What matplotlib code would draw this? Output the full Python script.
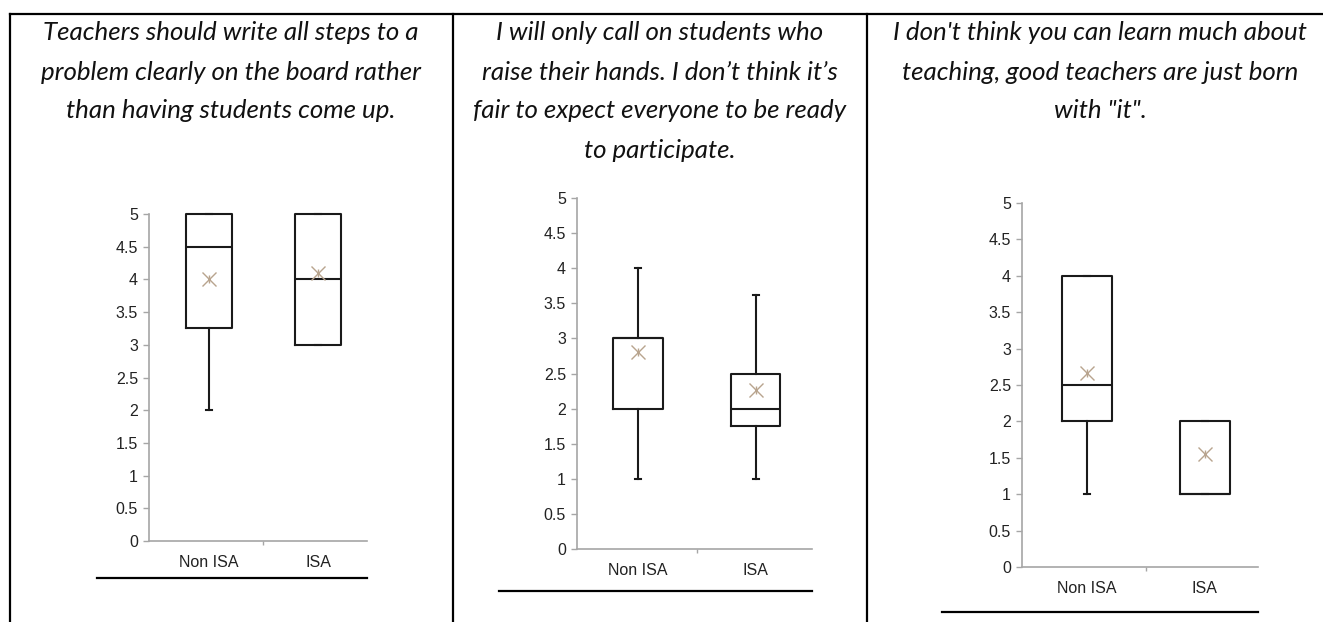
import matplotlib
matplotlib.use('Agg')
import matplotlib.pyplot as plt
from matplotlib.lines import Line2D

W, H = 1323, 622

# statements (one per table cell), one entry per printed line
titles = [
    ['Teachers should write all steps to a',
     'problem clearly on the board rather',
     'than having students come up.'],
    ['I will only call on students who',
     'raise their hands. I don\u2019t think it\u2019s',
     'fair to expect everyone to be ready',
     'to participate.'],
    ['I don\'t think you can learn much about',
     'teaching, good teachers are just born',
     'with "it".'],
]
groups = ['Non ISA', 'ISA']

# box stats per panel: [Non ISA, ISA]
mins = [[2, 3], [1, 1], [1, 1]]
q1s = [[3.25, 3], [2, 1.75], [2, 1]]
medians = [[4.5, 4], [3, 2], [2.5, 1]]
q3s = [[5, 5], [3, 2.5], [4, 2]]
maxs = [[5, 5], [4, 3.625], [4, 2]]
means = [[4.0, 4.1], [2.8, 2.27], [2.67, 1.55]]

yticks = [0, 0.5, 1, 1.5, 2, 2.5, 3, 3.5, 4, 4.5, 5]
ytick_labels = ['0', '0.5', '1', '1.5', '2', '2.5', '3', '3.5', '4', '4.5', '5']

# layout in pixels
ax_px = [(149, 367, 214, 541), (577, 812, 198, 549), (1022, 1258, 203, 567)]  # left, right, top(y=5), bottom(y=0)
x_lims = [(0.45, 2.45), (0.48, 2.48), (0.45, 2.45)]
underline_px = [(97, 367, 578), (499, 812, 591), (942, 1258, 612)]
title_x = [231, 660, 1100]
title_y = [32, 72, 111, 151]
cell_lines_x = [10, 453, 867]
top_y = 14

fig = plt.figure(figsize=(W / 100, H / 100), dpi=100)
fig.patch.set_facecolor('white')


def fx(x):
    return x / W


def fy(y):
    return 1 - y / H


# bordas da tabela
fig.add_artist(Line2D([fx(cell_lines_x[0]), 1], [fy(top_y), fy(top_y)], color='black', lw=1.6))
for x in cell_lines_x:
    fig.add_artist(Line2D([fx(x), fx(x)], [fy(top_y), 0], color='black', lw=1.6))

axis_grey = '#a6a6a6'
ink = '#1a1a1a'
tick_font = dict(family='Liberation Sans', size=11.5, color='#222222')

for i in range(3):
    l, r, t, b = ax_px[i]
    ax = fig.add_axes([fx(l), fy(b), (r - l) / W, (b - t) / H])

    stats = []
    for j in range(2):
        stats.append({'whislo': mins[i][j], 'q1': q1s[i][j], 'med': medians[i][j],
                      'q3': q3s[i][j], 'whishi': maxs[i][j], 'fliers': [],
                      'label': groups[j]})
    ax.bxp(stats, positions=[1, 2], widths=0.42, showfliers=False,
           capwidths=0.05, manage_ticks=False,
           boxprops=dict(color=ink, lw=1.5),
           medianprops=dict(color=ink, lw=1.5),
           whiskerprops=dict(color=ink, lw=1.5),
           capprops=dict(color=ink, lw=1.5))
    for art in ax.get_children():
        art.set_clip_on(False)

    # mean marker (Excel style asterisk)
    ax.plot([1, 2], means[i], linestyle='none', marker='x', markersize=10,
            markeredgecolor='#b8a48e', markeredgewidth=1.0, clip_on=False, zorder=5)
    ax.plot([1, 2], means[i], linestyle='none', marker='|', markersize=6,
            markeredgecolor='#b8a48e', markeredgewidth=1.0, clip_on=False, zorder=5)

    ax.set_xlim(*x_lims[i])
    ax.set_ylim(0, 5)
    ax.set_yticks(yticks)
    ax.set_yticklabels(ytick_labels, **tick_font)
    ax.set_xticks([1.5])
    ax.set_xticklabels([''])
    ax.set_xticks([1, 2], minor=True)
    ax.set_xticklabels(groups, minor=True, **tick_font)
    ax.tick_params(axis='y', length=4, width=1, color=axis_grey, pad=4)
    ax.tick_params(axis='x', which='major', length=3, width=1, color=axis_grey)
    ax.tick_params(axis='x', which='minor', length=0, pad=10)
    for s in ['top', 'right']:
        ax.spines[s].set_visible(False)
    for s in ['left', 'bottom']:
        ax.spines[s].set_color(axis_grey)
        ax.spines[s].set_linewidth(1.2)
    ax.patch.set_alpha(0)

    ul, ur, uy = underline_px[i]
    fig.add_artist(Line2D([fx(ul), fx(ur)], [fy(uy), fy(uy)], color='black', lw=1.6))

# título de cada célula, linha por linha
title_texts = []
for i in range(3):
    for k, line in enumerate(titles[i]):
        txt = fig.text(fx(title_x[i]), fy(title_y[k]), line, ha='center', va='center',
                       fontsize=14, style='italic', family='Lato', color='#111111')
        title_texts.append(txt)

# ajustar o tamanho da fonte para a largura da primeira linha (377 px)
fig.canvas.draw()
w = title_texts[0].get_window_extent(fig.canvas.get_renderer()).width
for txt in title_texts:
    txt.set_fontsize(14 * 377 / w)

fig.savefig('out.png', dpi=100, facecolor='white')
